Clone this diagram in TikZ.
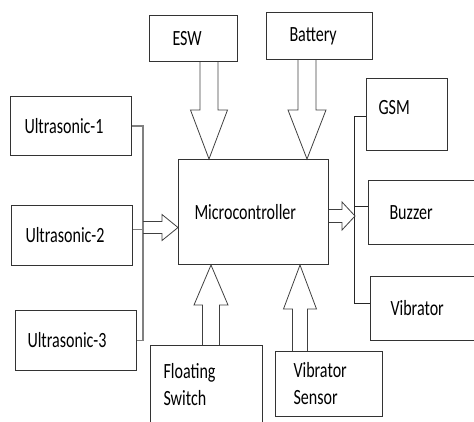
\documentclass[tikz,border=0pt]{standalone}
\usepackage{fontspec}
\usepackage{tikz}
\usetikzlibrary{positioning, calc}
\newfontfamily\lbl[FakeStretch=0.74]{Carlito}

% seta larga vazada: inicio, ponta, meia largura da haste, meia largura da cabeca, comprimento da cabeca
\newcommand{\fatarrow}[5]{%
  \coordinate (hb) at ($(#2)!#5!(#1)$);
  \draw[fat] ($(#1)!#3!90:(#2)$) -- ($(hb)!#3!90:(#2)$) -- ($(hb)!#4!90:(#2)$)
    -- (#2) -- ($(hb)!#4!-90:(#2)$) -- ($(hb)!#3!-90:(#2)$) -- ($(#1)!#3!-90:(#2)$);
}

\begin{document}
\begin{tikzpicture}[x=1pt, y=-1pt,
        % 1. ESTILOS
        blk/.style={draw=black!80, line width=1pt, anchor=north west, align=left,
            font=\fontsize{21.7}{27}\lbl, inner ysep=2pt},
        % setas largas (so contorno)
        fat/.style={draw=black!75, line width=0.8pt, line join=miter},
        % barramentos
        lbusline/.style={draw=black!50, line width=1.3pt},
        rbusline/.style={draw=black!85, line width=1pt}
    ]
        \clip (0,0) rectangle (474,421);

        % 2. BLOCOS
        \node[blk, text width=42pt, inner xsep=23pt, minimum height=46pt] (esw) at (149,15) {ESW};
        \node[blk, text width=60pt, inner xsep=23pt, minimum height=47pt] (bat) at (266,12) {Battery};

        \node[blk, text width=93pt, inner xsep=14pt, minimum height=59pt] (u1) at (10,96) {Ultrasonic-1};
        \node[blk, text width=93pt, inner xsep=14pt, minimum height=60pt] (u2) at (11,205) {Ultrasonic-2};
        \node[blk, text width=97pt, inner xsep=12pt, minimum height=60pt] (u3) at (15,310) {Ultrasonic-3};

        \node[blk, text width=118pt, inner xsep=16pt, minimum height=105pt] (mcu) at (178,159) {Microcontroller};

        \node[blk, text width=57pt, inner xsep=12pt, minimum height=72pt, text depth=14pt] (gsm) at (366,78) {GSM};
        \node[blk, text width=68pt, inner xsep=21pt, minimum height=64pt] (buz) at (368,180) {Buzzer};
        \node[blk, text width=70pt, inner xsep=20pt, minimum height=64pt] (vib) at (370,276) {Vibrator};

        \node[blk, text width=86pt, inner xsep=13pt, minimum height=78pt] (fsw) at (150,345) {Floating\\Switch};
        \node[blk, text width=71pt, inner xsep=18pt, minimum height=65pt] (vsen) at (275,351) {Vibrator\\Sensor};

        % 3. BARRAMENTOS
        \coordinate (lbus) at (143,0);
        \coordinate (rbus) at (354,0);
        \coordinate (u2o) at ($(u2.east)+(0,-6)$);
        \draw[lbusline] (u1.east) -- (u1.east -| lbus) -- (u3.east -| lbus) -- (u3.east);
        \draw[lbusline] (u2o) -- (u2o -| lbus);

        \coordinate (gsmo) at ($(gsm.west)+(0,2)$);
        \coordinate (buzo) at ($(buz.west)+(0,-6)$);
        \coordinate (vibo) at ($(vib.west)+(0,-5)$);
        \draw[rbusline] (gsmo) -- (gsmo -| rbus) -- (vibo -| rbus) -- (vibo);
        \draw[rbusline] (buzo) -- (buzo -| rbus);

        % 4. SETAS LARGAS
        \coordinate (a1t) at ($(mcu.north west)+(31,0)$);
        \coordinate (a1s) at (a1t |- esw.south);
        \fatarrow{a1s}{a1t}{9pt}{18.5pt}{49pt}

        \coordinate (a2t) at ($(mcu.north west)+(129,0)$);
        \coordinate (a2s) at (a2t |- bat.south);
        \fatarrow{a2s}{a2t}{9pt}{19pt}{49pt}

        \coordinate (a3t) at ($(mcu.west)+(0,15.5)$);
        \coordinate (a3s) at (a3t -| lbus);
        \fatarrow{a3s}{a3t}{6pt}{13pt}{16pt}

        \coordinate (a4s) at ($(mcu.east)+(0,4)$);
        \coordinate (a4t) at ($(a4s -| rbus)+(1,0)$);
        \fatarrow{a4s}{a4t}{6.5pt}{14pt}{13pt}

        \coordinate (a5t) at ($(mcu.south west)+(33,0)$);
        \coordinate (a5s) at (a5t |- fsw.north);
        \fatarrow{a5s}{a5t}{8.5pt}{17pt}{40pt}

        \coordinate (a6t) at ($(mcu.south west)+(122,0)$);
        \coordinate (a6s) at (a6t |- vsen.north);
        \fatarrow{a6s}{a6t}{7.5pt}{16.5pt}{44pt}

\end{tikzpicture}
\end{document}
